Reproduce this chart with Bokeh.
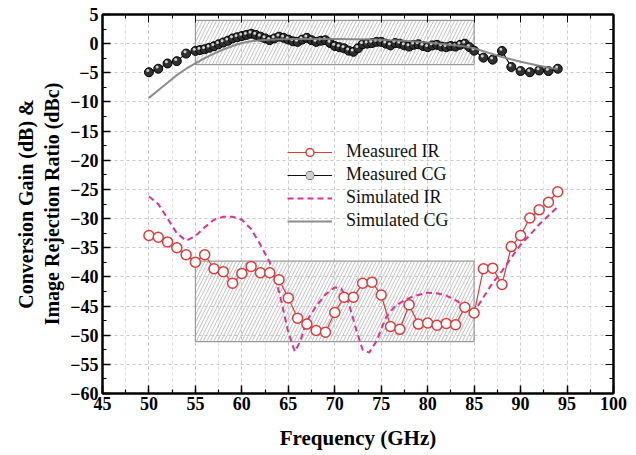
from bokeh.plotting import figure
from bokeh.models import (LinearAxis, SingleIntervalTicker, Legend, LegendItem,
                          CustomJSTickFormatter, Range1d)
from bokeh.embed import file_html
from bokeh.resources import INLINE

# ---------------- data ----------------
mir_f = list(range(50, 95))
mir_v = [-32.9, -33.2, -34.0, -35.0, -36.2, -37.5, -36.2, -38.6, -39.1, -41.1,
         -39.4, -38.2, -39.3, -39.3, -40.5, -43.6, -47.1, -48.1, -49.2, -49.5,
         -46.1, -43.5, -43.5, -41.1, -40.9, -43.1, -48.5, -49.0, -44.8, -48.1,
         -47.9, -48.3, -48.0, -48.2, -45.2, -46.2, -38.6, -38.5, -41.3, -34.8,
         -32.9, -29.9, -28.5, -27.2, -25.4]

mcg_f = [50, 51, 52, 53, 54,
         55, 55.5, 56, 56.5, 57, 57.5, 58, 58.5, 59, 59.5, 60, 60.5, 61, 61.5,
         62, 62.5, 63, 63.5, 64, 64.5, 65, 65.5, 66, 66.5, 67, 67.5, 68, 68.5,
         69, 69.5, 70, 70.5, 71, 71.5, 72, 72.5, 73, 73.5, 74, 74.5, 75, 75.5,
         76, 76.5, 77, 77.5, 78, 78.5, 79, 79.5, 80, 80.5, 81, 81.5, 82, 82.5,
         83, 83.5, 84, 84.5, 85,
         86, 87, 88, 89, 90, 91, 92, 93, 94]
mcg_v = [-4.9, -4.3, -3.4, -3.0, -1.7,
         -1.25, -1.1, -0.95, -0.7, -0.45, -0.1, 0.2, 0.5, 0.9, 1.1, 1.3, 1.5, 1.7, 1.5,
         1.2, 0.9, 0.6, 0.9, 1.2, 1.0, 0.7, 0.4, 0.3, 0.7, 1.0, 0.6, 0.3, 0.5,
         0.6, 0.1, -0.4, -0.6, -0.8, -1.2, -1.4, -0.8, -0.1, 0.0, 0.1, 0.3, 0.3, 0.0,
         -0.3, 0.1, 0.0, -0.3, -0.5, -0.2, -0.1, -0.4, -0.6, -0.3, -0.2, -0.5, -0.6, -0.4,
         -0.5, -0.2, 0.0, -0.6, -1.2,
         -2.4, -2.75, -1.25, -4.0, -4.7, -4.9, -4.6, -4.7, -4.3]

sir_f = [50, 51, 52, 53, 54, 55, 56, 57, 58, 59, 60, 61, 62, 63, 64, 65, 65.7,
         66.3, 67, 68, 69, 70, 70.7, 71.5, 72.3, 73, 73.7, 74.5, 75.5, 76.5, 77.5,
         78.5, 80, 81, 82, 83, 84, 85, 86, 87, 88, 89, 90, 91, 92, 93, 94]
sir_v = [-26.2, -27.5, -30.0, -32.5, -33.8, -33.0, -31.5, -30.2, -29.7, -29.7,
         -30.2, -31.8, -34.5, -37.5, -42.5, -49.5, -52.8, -51.0, -47.5, -45.0,
         -43.0, -41.8, -42.0, -44.5, -49.0, -52.5, -53.0, -51.0, -47.0, -45.0,
         -44.0, -43.3, -42.7, -42.8, -43.2, -44.0, -45.0, -46.0, -43.5, -41.0,
         -39.0, -36.7, -34.5, -32.8, -31.0, -29.5, -28.0]

scg_f = [50, 51, 52, 53, 54, 55, 56, 57, 58, 59, 60, 61, 62, 64, 66, 68, 70, 72,
         74, 76, 78, 80, 82, 84, 85, 86, 88, 90, 92, 94]
scg_v = [-9.3, -8.0, -6.7, -5.4, -4.3, -3.4, -2.5, -1.7, -1.0, -0.4, 0.1, 0.4,
         0.6, 0.75, 0.8, 0.8, 0.8, 0.75, 0.7, 0.6, 0.45, 0.2, -0.1, -0.5, -0.8,
         -1.3, -2.3, -3.1, -3.8, -4.4]

# spec boxes (hatched)
box_left = [55, 55]
box_right = [85, 85]
box_top = [4.0, -37.3]
box_bottom = [-3.6, -51.1]

SERIF = "Liberation Serif"
RED = "#e03a3a"
PINK = "#e0318a"

# ---------------- figure ----------------
p = figure(width=636, height=455, x_range=Range1d(45, 100), y_range=Range1d(-60, 5),
           output_backend="svg", toolbar_location=None,
           min_border_left=102, min_border_right=23, min_border_top=14,
           min_border_bottom=62)
p.background_fill_color = "white"
p.border_fill_color = "white"
p.outline_line_color = "black"
p.outline_line_width = 2

p.xaxis.ticker = SingleIntervalTicker(interval=5, num_minor_ticks=2)
p.yaxis.ticker = SingleIntervalTicker(interval=5, num_minor_ticks=2)

for ax in (p.xaxis[0], p.yaxis[0]):
    ax.major_tick_in = 8
    ax.major_tick_out = 0
    ax.minor_tick_in = 4
    ax.minor_tick_out = 0
    ax.axis_line_width = 2
    ax.major_tick_line_width = 1.5
    ax.minor_tick_line_width = 1.2
    ax.major_label_text_font = SERIF
    ax.major_label_text_font_style = "bold"
    ax.major_label_text_font_size = "18px"
    ax.major_label_text_color = "black"
    ax.axis_label_text_font = SERIF
    ax.axis_label_text_font_style = "bold"
    ax.axis_label_text_color = "black"

p.xaxis.axis_label = "Frequency (GHz)"
p.xaxis.axis_label_text_font_size = "21px"
p.xaxis.axis_label_standoff = 13
p.xaxis.major_label_standoff = 3
p.yaxis.axis_label = "Conversion Gain (dB) &\nImage Rejection Ratio (dBc)"
p.yaxis.axis_label_text_font_size = "20px"
p.yaxis.axis_label_standoff = 4
p.yaxis.major_label_standoff = 4

blank = CustomJSTickFormatter(code="return ''")
top_ax = LinearAxis(ticker=SingleIntervalTicker(interval=5, num_minor_ticks=2),
                    formatter=blank)
right_ax = LinearAxis(ticker=SingleIntervalTicker(interval=5, num_minor_ticks=2),
                      formatter=blank)
for ax in (top_ax, right_ax):
    ax.major_tick_in = 8
    ax.major_tick_out = 0
    ax.minor_tick_in = 4
    ax.minor_tick_out = 0
    ax.axis_line_width = 2
    ax.major_label_standoff = 0
    ax.major_label_text_font_size = "1px"
p.add_layout(top_ax, "above")
p.add_layout(right_ax, "right")

p.xgrid.grid_line_color = "#c8c8c8"
p.xgrid.grid_line_dash = "3 3"
p.xgrid.minor_grid_line_color = "#e0e0e0"
p.xgrid.minor_grid_line_dash = "3 3"
p.ygrid.grid_line_color = "#c8c8c8"
p.ygrid.grid_line_dash = "3 3"

# hatched spec boxes
p.quad(left=box_left, right=box_right, top=box_top, bottom=box_bottom,
       fill_color="white", fill_alpha=0.0, hatch_pattern="/",
       hatch_color="#b8b8b8", hatch_scale=7, hatch_weight=0.9,
       line_color="#9a9a9a", line_width=1.2)

# series
r_sir = p.line(sir_f, sir_v, line_color=PINK, line_width=2, line_dash="6 4")
r_mir_l = p.line(mir_f, mir_v, line_color=RED, line_width=1.2)
r_mir_s = p.scatter(mir_f, mir_v, marker="circle", size=10, fill_color="white",
                    line_color=RED, line_width=1.5)
r_mcg_l = p.line(mcg_f, mcg_v, line_color="#111111", line_width=1.2)
r_mcg_s = p.scatter(mcg_f, mcg_v, marker="circle", size=9, fill_color="#303030",
                    line_color="#000000", line_width=1)
hl_f = [f - 0.12 for f in mcg_f]
hl_v = [v + 0.3 for v in mcg_v]
r_mcg_h = p.scatter(hl_f, hl_v, marker="circle", size=3, fill_color="#d0d0d0",
                    line_color=None)
r_scg = p.line(scg_f, scg_v, line_color="#808080", line_width=2, line_alpha=0.9)

legend = Legend(items=[
    LegendItem(label="Measured IR", renderers=[r_mir_l, r_mir_s]),
    LegendItem(label="Measured CG", renderers=[r_mcg_l, r_mcg_s, r_mcg_h]),
    LegendItem(label="Simulated IR", renderers=[r_sir]),
    LegendItem(label="Simulated CG", renderers=[r_scg]),
], location=(185, 162))
legend.label_text_font = SERIF
legend.label_text_font_size = "18px"
legend.label_text_color = "#111111"
legend.glyph_width = 45
legend.glyph_height = 20
legend.label_height = 20
legend.spacing = 2
legend.label_standoff = 14
legend.padding = 0
legend.margin = 0
legend.border_line_alpha = 0
legend.background_fill_alpha = 0
p.add_layout(legend, "center")

open("out.html", "w").write(file_html(p, INLINE))
